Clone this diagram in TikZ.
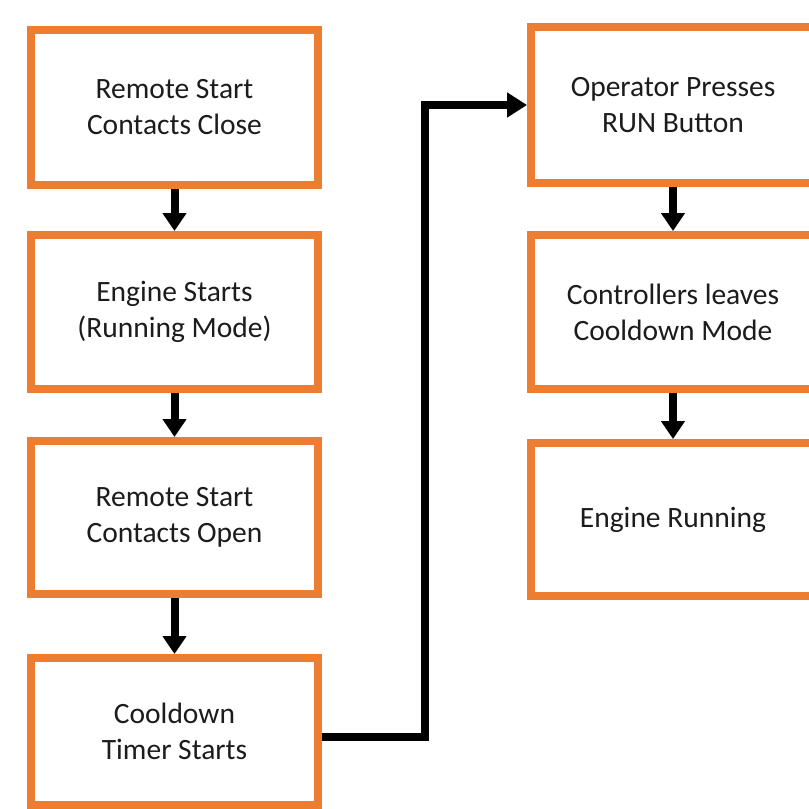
\documentclass[tikz,border=0pt]{standalone}
\usepackage{fontspec}
\setmainfont{Carlito}
\usetikzlibrary{arrows.meta}
\definecolor{boxorange}{HTML}{ED7D31}
\definecolor{txt}{HTML}{1C1C1C}
\begin{document}
\begin{tikzpicture}[x=1pt,y=-1pt,
  flowbox/.style={draw=boxorange, line width=8pt, fill=white, rectangle, align=center, text=txt,
    font=\fontsize{29.5}{36}\selectfont, inner sep=0pt},
  leftbox/.style={flowbox, minimum width=287pt},
  rightbox/.style={flowbox, minimum width=284pt},
  flowarrow/.style={line width=8pt, draw=black, line join=miter, -{Triangle[length=18pt,width=23pt]}},
  sidearrow/.style={line width=8pt, draw=black, line join=miter, -{Triangle[length=20pt,width=24pt]}}]
\useasboundingbox (0,0) rectangle (809,809);
\fill[white] (0,0) rectangle (809,809);
\clip (0,0) rectangle (809,809);
\node[leftbox, minimum height=155pt] (b1) at (174.5,107.5) {Remote Start\\Contacts Close};
\node[leftbox, minimum height=154pt] (b2) at (174.5,312) {Engine Starts\\(Running Mode)};
\node[leftbox, minimum height=153pt] (b3) at (174.5,517.5) {Remote Start\\Contacts Open};
\node[leftbox, minimum height=147pt] (b4) at (174.5,731.5) {Cooldown\\Timer Starts};
\node[rightbox, minimum height=156pt] (r1) at (673,105) {Operator Presses\\RUN Button};
\node[rightbox, minimum height=154pt] (r2) at (673,312) {Controllers leaves\\Cooldown Mode};
\node[rightbox, minimum height=153pt] (r3) at (673,519.5) {Engine Running};
\coordinate (turn) at (425,0);
\draw[flowarrow] (b1) -- (b2);
\draw[flowarrow] (b2) -- (b3);
\draw[flowarrow] (b3) -- (b4);
\draw[flowarrow] (r1) -- (r2);
\draw[flowarrow] (r2) -- (r3);
\draw[sidearrow] ([yshift=-5.5pt]b4.east) -| (turn |- r1.west) -- (r1.west);
\end{tikzpicture}
\end{document}
